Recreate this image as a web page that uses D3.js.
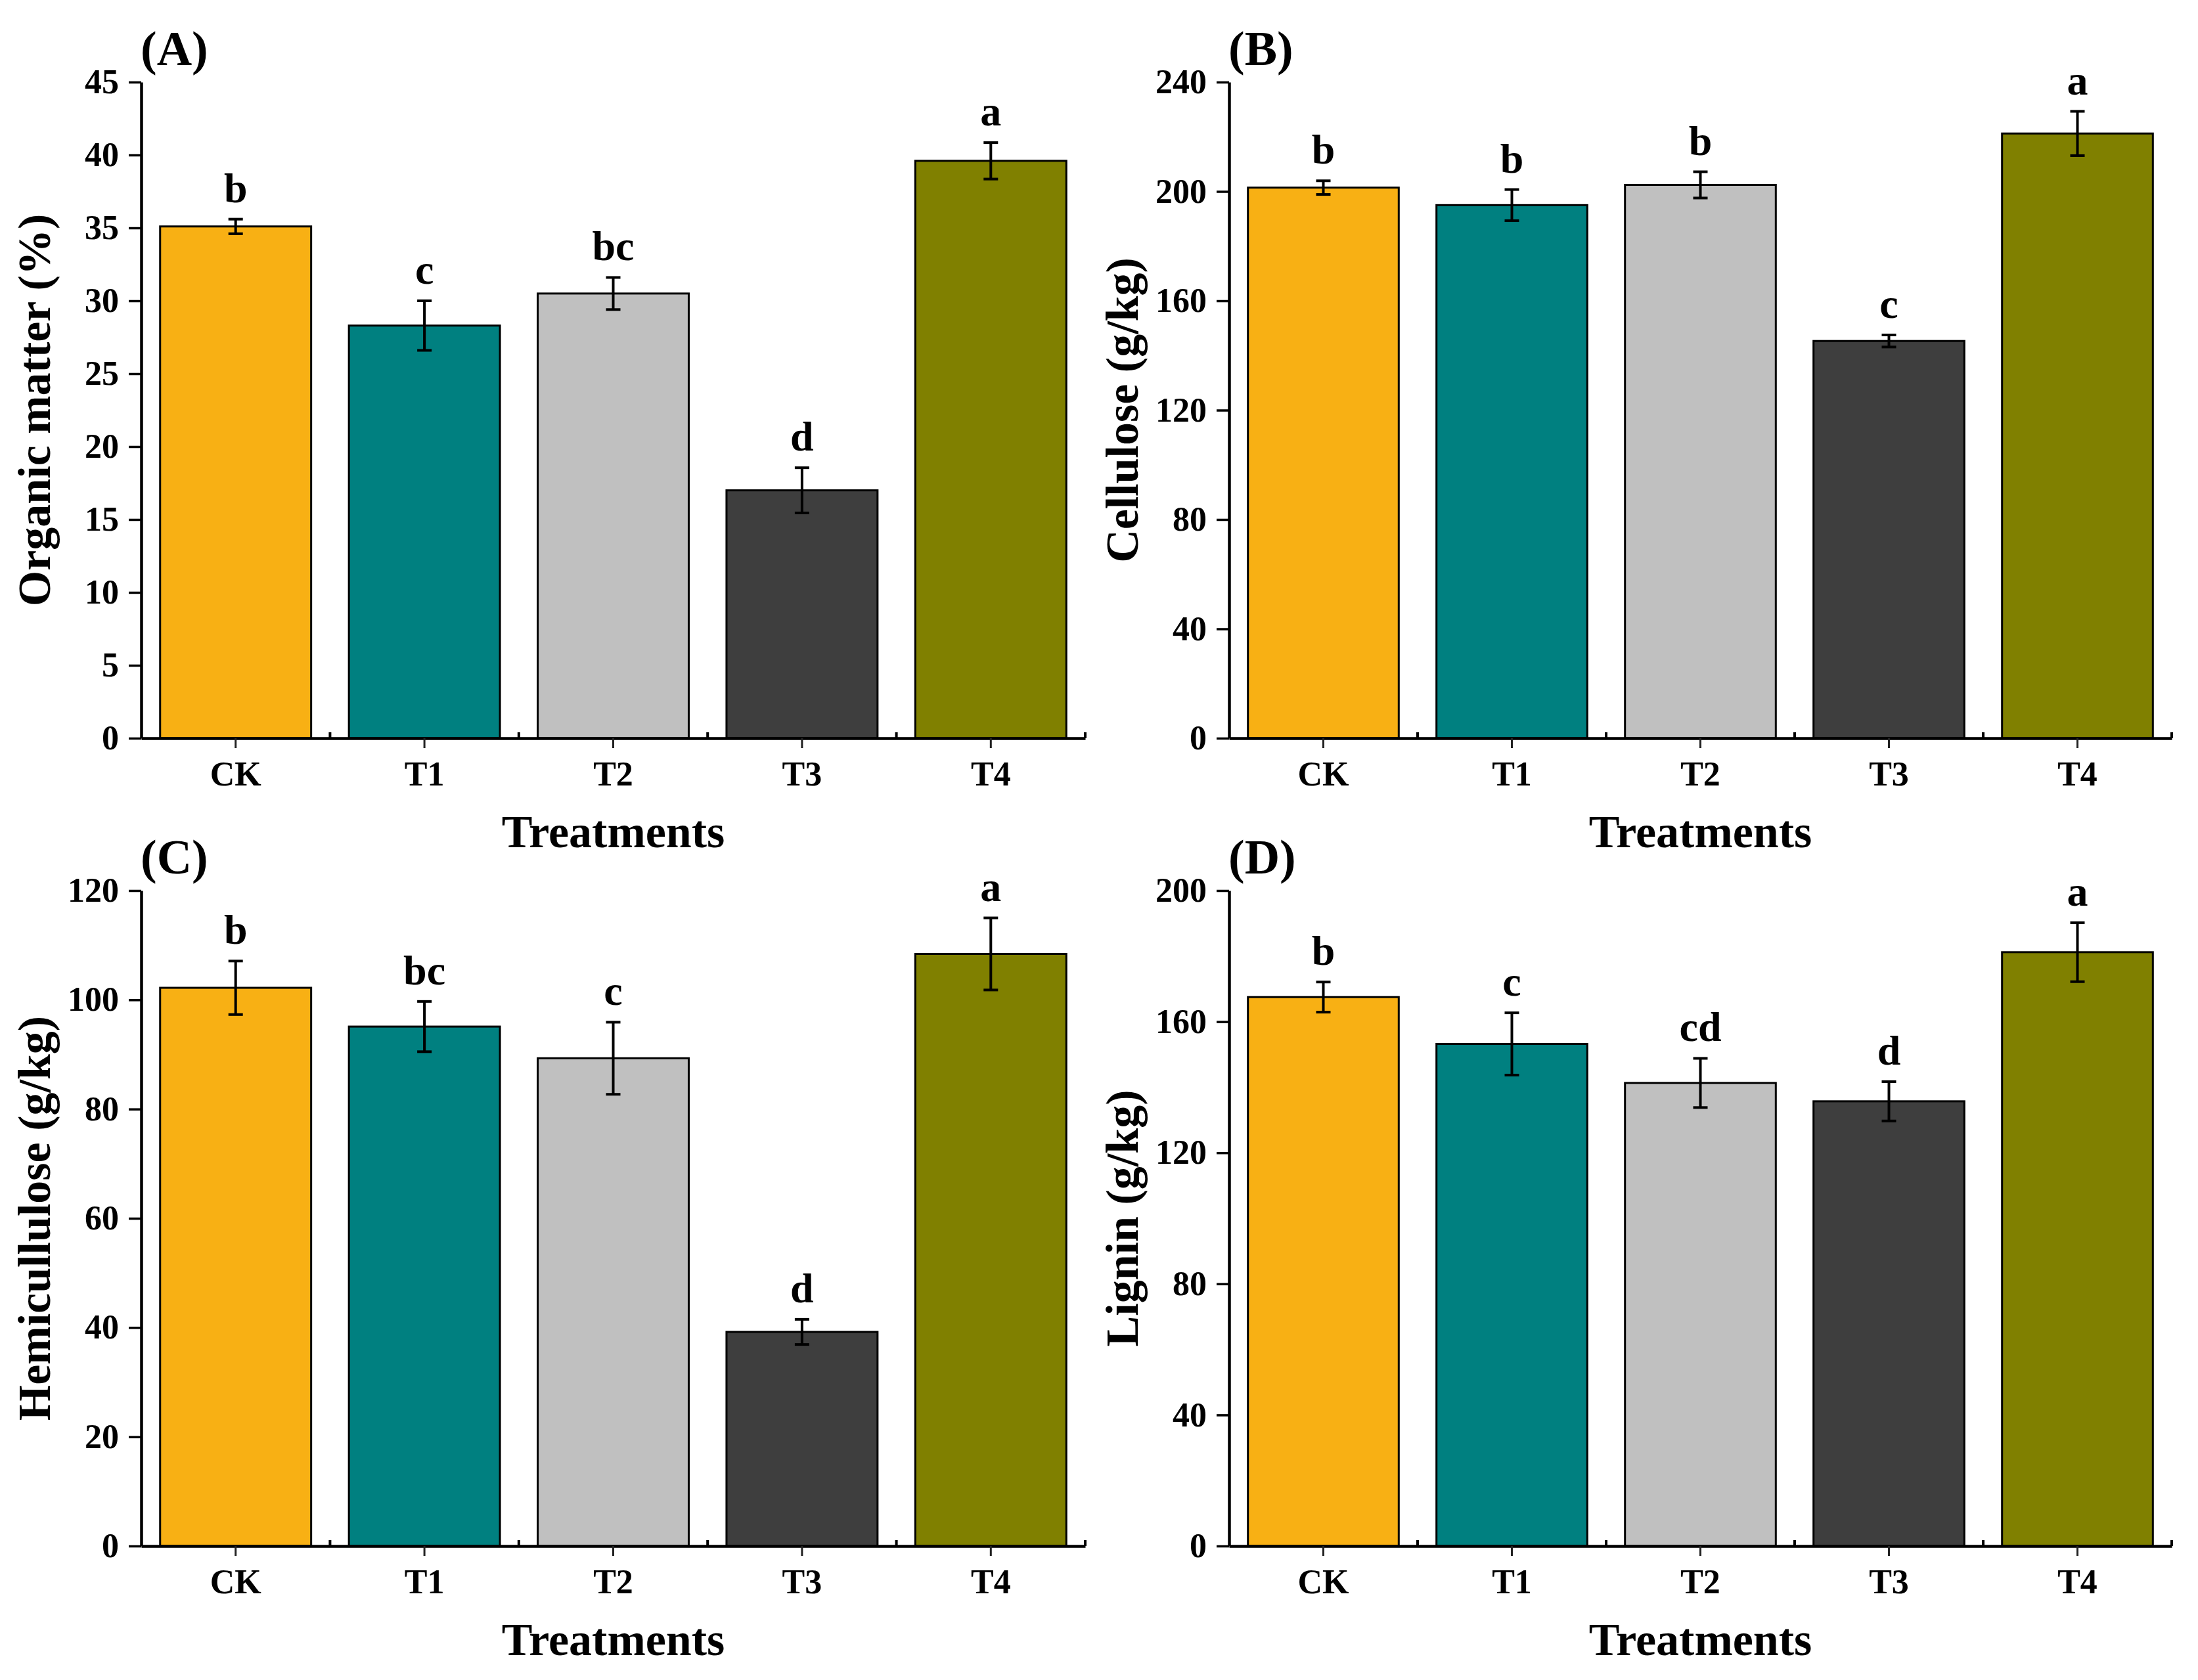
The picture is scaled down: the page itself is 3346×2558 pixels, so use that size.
<!DOCTYPE html>
<html>
<head>
<meta charset="utf-8">
<script src="https://cdn.jsdelivr.net/npm/d3@7"></script>
<style>
  html, body { margin: 0; padding: 0; background: #fff; }
  svg { display: block; }
  text { font-family: "Liberation Serif", "Times New Roman", serif; font-weight: bold; fill: #000; }
</style>
</head>
<body>
<svg id="chart" width="3346" height="2558"></svg>
<script>
// ---------------- data ----------------
const categories = ["CK", "T1", "T2", "T3", "T4"];
const barColors = ["#F8B014", "#008080", "#C0C0C0", "#3E3E3E", "#808000"];

const organicMatter = [35.1, 28.3, 30.5, 17.0, 39.6];
const organicMatterErr = [0.5, 1.7, 1.1, 1.55, 1.25];
const organicMatterLetters = ["b", "c", "bc", "d", "a"];
const organicMatterTicks = [0, 5, 10, 15, 20, 25, 30, 35, 40, 45];

const cellulose = [201.4, 195.0, 202.4, 145.3, 221.2];
const celluloseErr = [2.5, 5.7, 4.8, 2.2, 8.1];
const celluloseLetters = ["b", "b", "b", "c", "a"];
const celluloseTicks = [0, 40, 80, 120, 160, 200, 240];

const hemicellulose = [102.2, 95.1, 89.3, 39.2, 108.4];
const hemicelluloseErr = [4.9, 4.6, 6.6, 2.3, 6.6];
const hemicelluloseLetters = ["b", "bc", "c", "d", "a"];
const hemicelluloseTicks = [0, 20, 40, 60, 80, 100, 120];

const lignin = [167.5, 153.2, 141.3, 135.7, 181.2];
const ligninErr = [4.6, 9.5, 7.5, 6.0, 9.0];
const ligninLetters = ["b", "c", "cd", "d", "a"];
const ligninTicks = [0, 40, 80, 120, 160, 200];

const xAxisTitle = "Treatments";

// ---------------- panels ----------------
const panels = [
  { tag: "(A)", yTitle: "Organic matter (%)", values: organicMatter, errs: organicMatterErr,
    letters: organicMatterLetters, ticks: organicMatterTicks, x0: 215, x1: 1652, top: 125, bottom: 1124 },
  { tag: "(B)", yTitle: "Cellulose (g/kg)", values: cellulose, errs: celluloseErr,
    letters: celluloseLetters, ticks: celluloseTicks, x0: 1871, x1: 3306, top: 125, bottom: 1124 },
  { tag: "(C)", yTitle: "Hemicullulose (g/kg)", values: hemicellulose, errs: hemicelluloseErr,
    letters: hemicelluloseLetters, ticks: hemicelluloseTicks, x0: 215, x1: 1652, top: 1356, bottom: 2354 },
  { tag: "(D)", yTitle: "Lignin (g/kg)", values: lignin, errs: ligninErr,
    letters: ligninLetters, ticks: ligninTicks, x0: 1871, x1: 3306, top: 1356, bottom: 2354 }
];

const svg = d3.select("#chart");

panels.forEach(p => {
  const g = svg.append("g");
  const x = d3.scaleBand().domain(categories).range([p.x0, p.x1])
    .paddingInner(0.2).paddingOuter(0.1);
  const step = x.step();
  const y = d3.scaleLinear().domain([0, d3.max(p.ticks)]).range([p.bottom, p.top]);

  // bars
  g.selectAll("rect.bar").data(categories).enter().append("rect")
    .attr("class", "bar")
    .attr("x", d => x(d))
    .attr("width", x.bandwidth())
    .attr("y", (d, i) => y(p.values[i]))
    .attr("height", (d, i) => y(0) - y(p.values[i]))
    .attr("fill", (d, i) => barColors[i])
    .attr("stroke", "#000")
    .attr("stroke-width", 3);

  // error bars
  const cx = d => x(d) + x.bandwidth() / 2;
  const eb = g.selectAll("g.err").data(categories).enter().append("g").attr("class", "err");
  eb.append("line")
    .attr("x1", cx).attr("x2", cx)
    .attr("y1", (d, i) => y(p.values[i] + p.errs[i]))
    .attr("y2", (d, i) => y(p.values[i] - p.errs[i]))
    .attr("stroke", "#000").attr("stroke-width", 4);
  eb.append("line")
    .attr("x1", d => cx(d) - 11).attr("x2", d => cx(d) + 11)
    .attr("y1", (d, i) => y(p.values[i] + p.errs[i]))
    .attr("y2", (d, i) => y(p.values[i] + p.errs[i]))
    .attr("stroke", "#000").attr("stroke-width", 4);
  eb.append("line")
    .attr("x1", d => cx(d) - 11).attr("x2", d => cx(d) + 11)
    .attr("y1", (d, i) => y(p.values[i] - p.errs[i]))
    .attr("y2", (d, i) => y(p.values[i] - p.errs[i]))
    .attr("stroke", "#000").attr("stroke-width", 4);

  // significance letters
  g.selectAll("text.sig").data(categories).enter().append("text")
    .attr("class", "sig")
    .attr("x", cx)
    .attr("y", (d, i) => y(p.values[i] + p.errs[i]) - 26)
    .attr("text-anchor", "middle")
    .attr("font-size", 64)
    .text((d, i) => p.letters[i]);

  // y axis
  const yAxis = g.append("g")
    .attr("transform", `translate(${p.x0},0)`)
    .call(d3.axisLeft(y).tickValues(p.ticks).tickSize(19).tickPadding(15).tickSizeOuter(0));
  yAxis.select(".domain").attr("stroke", "#000").attr("stroke-width", 4.5);
  yAxis.selectAll(".tick line").attr("stroke", "#000").attr("stroke-width", 3.5);
  yAxis.selectAll(".tick text").attr("font-size", 52)
    .style("font-family", '"Liberation Serif", serif').style("font-weight", "bold").attr("fill", "#000");

  // x axis
  const xAxis = g.append("g")
    .attr("transform", `translate(0,${p.bottom})`)
    .call(d3.axisBottom(x).tickSize(15).tickPadding(20).tickSizeOuter(0));
  xAxis.select(".domain").attr("stroke", "#000").attr("stroke-width", 4.5);
  xAxis.selectAll(".tick line").attr("stroke", "#222").attr("stroke-width", 3);
  xAxis.selectAll(".tick text").attr("font-size", 52)
    .style("font-family", '"Liberation Serif", serif').style("font-weight", "bold").attr("fill", "#000");

  // minor ticks at band boundaries (pointing inward)
  const bounds = d3.range(1, categories.length + 1).map(k => p.x0 + k * step);
  g.selectAll("line.minor").data(bounds).enter().append("line")
    .attr("class", "minor")
    .attr("x1", d => d).attr("x2", d => d)
    .attr("y1", p.bottom).attr("y2", p.bottom - 9)
    .attr("stroke", "#000").attr("stroke-width", 4);

  // axis titles
  g.append("text")
    .attr("x", (p.x0 + p.x1) / 2)
    .attr("y", p.bottom + 166)
    .attr("text-anchor", "middle")
    .attr("font-size", 70)
    .text(xAxisTitle);

  g.append("text")
    .attr("transform", `translate(${p.x0 - 139},${(p.top + p.bottom) / 2}) rotate(-90)`)
    .attr("text-anchor", "middle")
    .attr("font-size", 70)
    .text(p.yTitle);

  // panel tag
  g.append("text")
    .attr("x", p.x0 - 1)
    .attr("y", p.top - 26)
    .attr("font-size", 74)
    .text(p.tag);
});
</script>
</body>
</html>
